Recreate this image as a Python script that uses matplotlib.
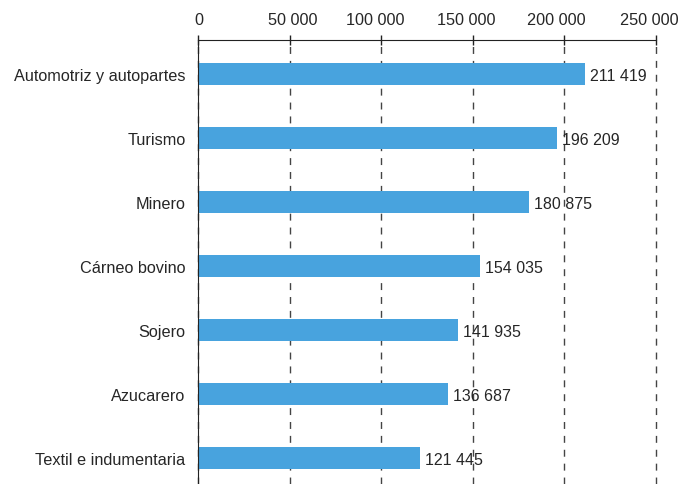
import matplotlib.pyplot as plt
from matplotlib.ticker import FuncFormatter
from matplotlib.transforms import ScaledTranslation

plt.rcParams['font.family'] = ['Liberation Sans', 'DejaVu Sans']

sectores = ['Automotriz y autopartes', 'Turismo', 'Minero', 'Cárneo bovino',
            'Sojero', 'Azucarero', 'Textil e indumentaria']
valores = [211419, 196209, 180875, 154035, 141935, 136687, 121445]
ticks = [0, 50000, 100000, 150000, 200000, 250000]

color_barra = '#48A3DE'
color_texto = '#262626'


def miles(v, pos=None):
    return f'{int(v):,}'.replace(',', ' ')


fig = plt.figure(figsize=(6.81, 4.85), dpi=100)
ax = fig.add_axes([198 / 681, 0, 458 / 681, 1 - 41 / 485])

y = list(range(len(sectores)))
ax.barh(y, valores, height=0.34, color=color_barra, zorder=2)

for yi, v in zip(y, valores):
    ax.text(v + 2500, yi + 0.03, miles(v), va='center', ha='left',
            fontsize=11.5, color=color_texto, zorder=3)

ax.set_xlim(0, 250000)
ax.set_ylim(6 + 26 / 64, -34 / 64)
ax.set_xticks(ticks)
ax.xaxis.set_major_formatter(FuncFormatter(miles))
ax.xaxis.tick_top()
ax.tick_params(axis='x', direction='inout', length=7, width=1, color='#222222',
               labelsize=11.7, labelcolor=color_texto, pad=6)
ax.set_yticks(y)
ax.set_yticklabels(sectores)
ax.tick_params(axis='y', length=0, labelsize=11.7, labelcolor=color_texto, pad=9)

# tick labels sit a bit left of their ticks in the original
desplaz = [1, 3, -6, -7, -8, -7]
for tk, dx in zip(ax.xaxis.get_major_ticks(), desplaz):
    lbl = tk.label2
    lbl.set_transform(lbl.get_transform() + ScaledTranslation(dx / 100, 0, fig.dpi_scale_trans))

ax.grid(axis='x', linestyle=(0, (5, 5)), color='#444444', linewidth=1, zorder=1)
ax.set_axisbelow(True)
for gl in ax.get_xgridlines():
    gl.set_clip_on(False)

for s in ['right', 'bottom']:
    ax.spines[s].set_visible(False)
ax.spines['top'].set_color('#222222')
ax.spines['left'].set_color('#222222')

fig.savefig('out.png', dpi=100)
